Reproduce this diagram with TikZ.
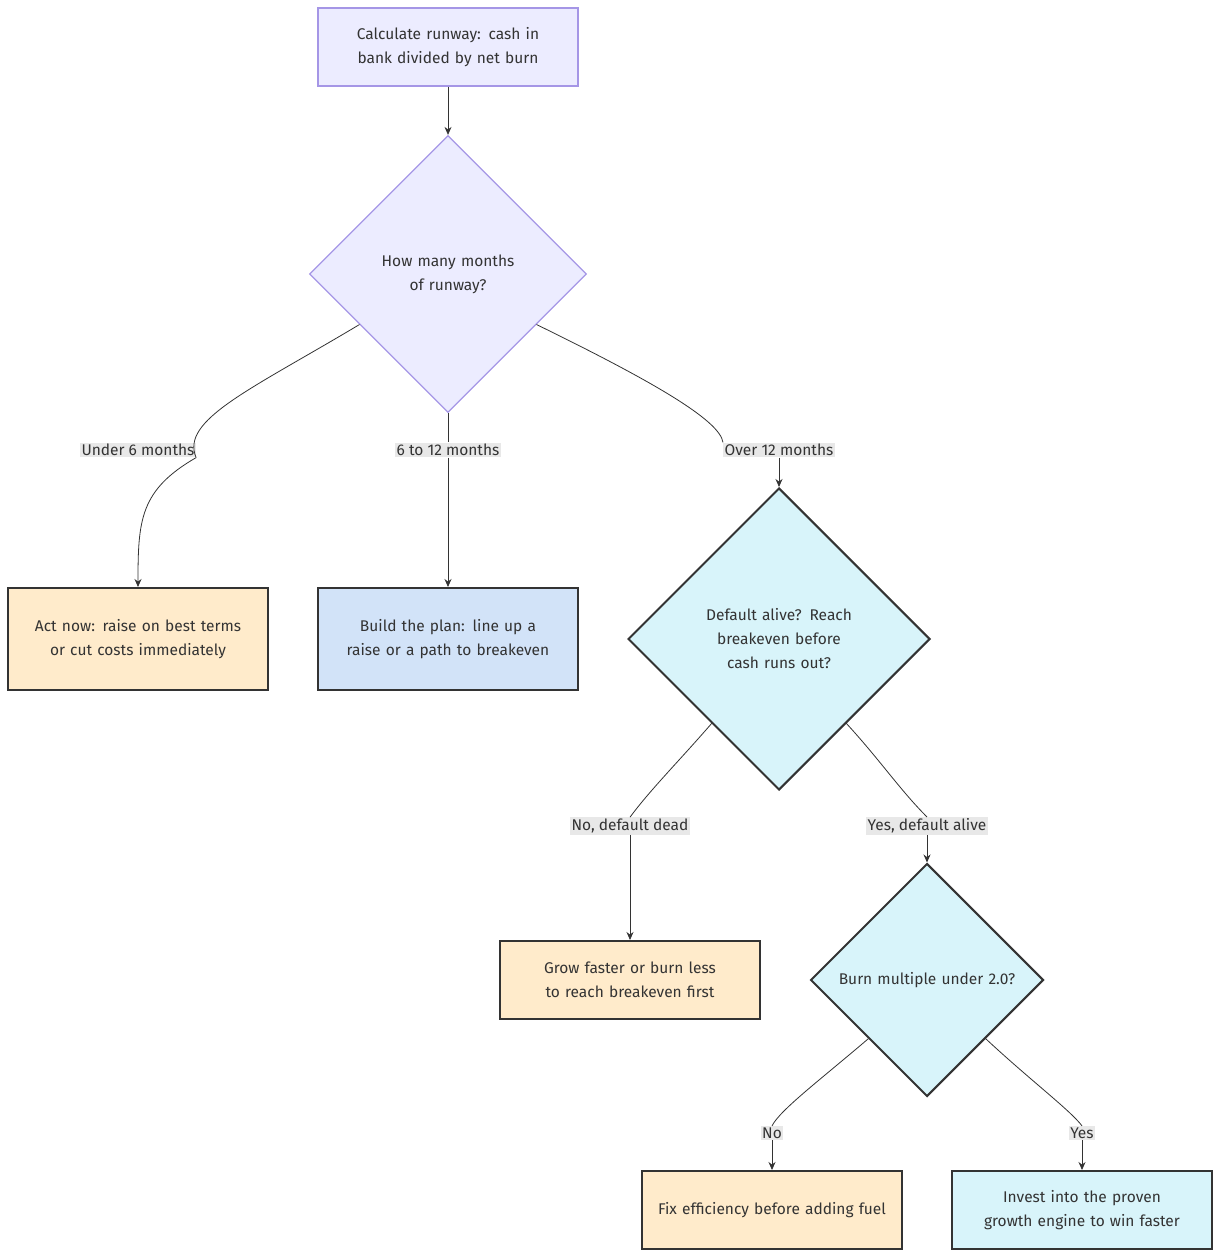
\documentclass[tikz,border=0pt]{standalone}
\usepackage{fontspec}
\setmainfont{Fira Sans}
\usetikzlibrary{shapes.geometric,arrows.meta,calc}
\definecolor{txt}{HTML}{333333}
\definecolor{purpfill}{HTML}{ECECFF}
\definecolor{purpline}{HTML}{A596E6}
\definecolor{orfill}{HTML}{FFEBCB}
\definecolor{blfill}{HTML}{D2E3F8}
\definecolor{cyfill}{HTML}{D8F4FA}
\definecolor{lblbg}{HTML}{E8E8E8}
\tikzset{
  x=1pt,y=-1pt,
  every node/.style={font=\fontsize{15.5}{24}\selectfont,text=txt,align=center},
  topbox/.style={draw=purpline,fill=purpfill,line width=1.2pt,minimum width=260,minimum height=78,text width=240},
  obox/.style={draw=txt,fill=orfill,line width=2pt,minimum width=260,text width=240},
  bbox/.style={draw=txt,fill=blfill,line width=2pt,minimum width=260,text width=240},
  cbox/.style={draw=txt,fill=cyfill,line width=2pt,minimum width=260,text width=240},
  dia/.style={diamond,aspect=1,inner sep=0,line width=2pt,draw=txt,fill=cyfill},
  lbl/.style={fill=lblbg,inner sep=1.5pt},
  arr/.style={draw=txt,line width=0.8pt,-{Stealth[length=8pt,width=7pt]}},
}
\begin{document}
\begin{tikzpicture}
\useasboundingbox (0,0) rectangle (1220,1257);
\node[topbox] (top) at (448,47) {Calculate runway: cash in bank divided by net burn};
\node[dia,draw=purpline,fill=purpfill,line width=1.2pt,minimum width=277,minimum height=277] (d1) at (448,274) {};
\node[text width=170] (d1t) at (448,274) {How many months of runway?};
\node[obox,minimum height=102] (a) at (138,639) {Act now: raise on best terms or cut costs immediately};
\node[bbox,minimum height=102] (b) at (448,639) {Build the plan: line up a raise or a path to breakeven};
\node[dia,minimum width=302,minimum height=302] (d2) at (779,639) {};
\node[text width=180] (d2t) at (779,639) {Default alive? Reach breakeven before cash runs out?};
\node[obox,minimum height=78] (c) at (630,980) {Grow faster or burn less to reach breakeven first};
\node[dia,minimum width=233,minimum height=233] (d3) at (927,980) {};
\node[text width=200] (d3t) at (927,980) {Burn multiple under 2.0?};
\node[obox,minimum height=78] (dd) at (772,1210) {Fix efficiency before adding fuel};
\node[cbox,minimum height=78] (e) at (1082,1210) {Invest into the proven growth engine to win faster};

\node[lbl] (l1) at (138,450) {Under 6 months};
\node[lbl] (l2) at (448,450) {6 to 12 months};
\node[lbl] (l3) at (779,450) {Over 12 months};
\node[lbl] (l4) at (630,826) {No, default dead};
\node[lbl] (l5) at (927,826) {Yes, default alive};
\node[lbl] (l6) at (772,1133) {No};
\node[lbl] (l7) at (1082,1133) {Yes};

\draw[arr] (top.south) -- (d1.north);
\draw[draw=txt,line width=0.8pt] ($(d1.south west)+(-19,-19)$) .. controls (250,390) and (180,420) .. (l1.south east);
\draw[arr] (l1.south east) .. controls (140,490) and (138,520) .. (a.north);
\draw[draw=txt,line width=0.8pt] (d1.south) -- (l2.north);
\draw[arr] (l2.south) -- (b.north);
\draw[draw=txt,line width=0.8pt] ($(d1.south east)+(19,-19)$) .. controls (650,380) and (720,420) .. (l3.north west);
\draw[arr] (l3.south) .. controls (779,470) .. (d2.north);
\draw[draw=txt,line width=0.8pt] ($(d2.south west)+(9,8)$) .. controls (680,760) and (650,790) .. (l4.north);
\draw[arr] (l4.south) .. controls (630,860) and (630,900) .. (c.north);
\draw[draw=txt,line width=0.8pt] ($(d2.south east)+(-9,8)$) .. controls (880,760) and (900,790) .. (l5.north);
\draw[arr] (l5.south) .. controls (927,848) .. (d3.north);
\draw[draw=txt,line width=0.8pt] (d3.south west) .. controls (820,1080) and (780,1110) .. (l6.north);
\draw[arr] (l6.south) .. controls (772,1150) .. (dd.north);
\draw[draw=txt,line width=0.8pt] (d3.south east) .. controls (1030,1080) and (1070,1110) .. (l7.north);
\draw[arr] (l7.south) .. controls (1082,1150) .. (e.north);
\end{tikzpicture}
\end{document}
